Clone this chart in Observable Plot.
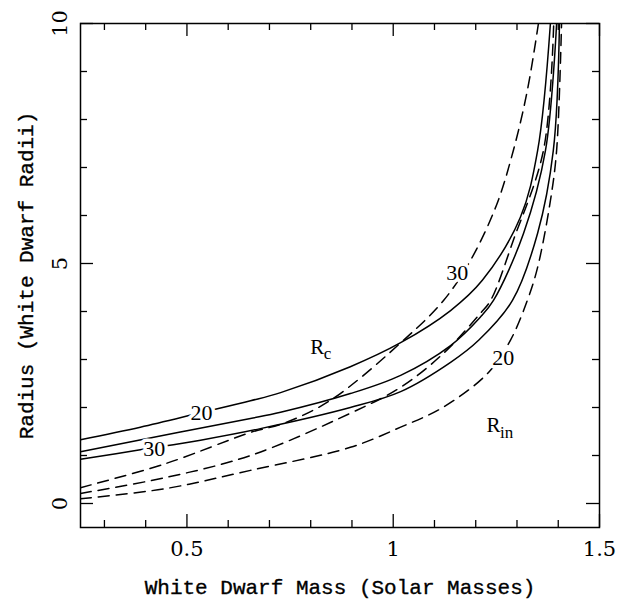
<!DOCTYPE html>
<html>
<head>
<meta charset="utf-8">
<script src="https://cdn.jsdelivr.net/npm/d3@7"></script>
<script src="https://cdn.jsdelivr.net/npm/@observablehq/plot@0.6"></script>
<style>
  html, body { margin: 0; padding: 0; background: #fff; }
  #chart svg { display: block; }
</style>
</head>
<body>
<div id="chart"></div>
<script>
// ---------- data ----------
// Solid curves (R_c), labelled 20 / 25 / 30
const s20Mass = [0.242, 0.387, 0.533, 0.654, 0.727, 0.896, 1.018, 1.139, 1.216, 1.308, 1.350, 1.381];
const s20Rad  = [1.33, 1.59, 1.89, 2.14, 2.31, 2.85, 3.35, 4.02, 4.65, 5.96, 7.35, 10.0];

const s25Mass = [0.242, 0.484, 0.654, 0.727, 0.896, 1.018, 1.139, 1.211, 1.243, 1.316, 1.369, 1.396];
const s25Rad  = [1.08, 1.49, 1.77, 1.90, 2.29, 2.67, 3.29, 3.88, 4.23, 5.63, 7.35, 10.0];

const s30Mass = [0.242, 0.387, 0.533, 0.678, 0.896, 1.018, 1.139, 1.207, 1.289, 1.350, 1.388, 1.403];
const s30Rad  = [0.92, 1.12, 1.32, 1.56, 2.00, 2.33, 2.94, 3.40, 4.23, 5.63, 7.35, 10.0];

// Dashed curves (R_in), labelled 30 / 25 / 20
const d30Mass = [0.242, 0.448, 0.654, 0.734, 0.848, 1.030, 1.122, 1.187, 1.250, 1.291, 1.325, 1.352];
const d30Rad  = [0.33, 0.83, 1.48, 1.67, 2.15, 3.44, 4.23, 5.06, 6.21, 7.35, 8.60, 10.0];

const d25Mass = [0.242, 0.448, 0.654, 0.896, 1.018, 1.122, 1.211, 1.236, 1.291, 1.364, 1.389];
const d25Rad  = [0.21, 0.54, 1.00, 1.88, 2.42, 3.13, 3.96, 4.23, 5.48, 7.35, 10.0];

const d20Mass = [0.242, 0.448, 0.654, 0.896, 1.018, 1.122, 1.231, 1.284, 1.325, 1.350, 1.381, 1.396, 1.408];
const d20Rad  = [0.10, 0.31, 0.69, 1.17, 1.59, 2.01, 2.73, 3.40, 4.23, 4.92, 6.31, 7.35, 10.0];

// Curve labels
const curveLabelText = ["20", "30", "30", "20"];
const curveLabelMass = [0.535, 0.421, 1.155, 1.267];
const curveLabelRad  = [1.896, 1.135, 4.80, 3.03];

// Region labels (R with subscript)
const regionMain = ["R", "R"];
const regionSub  = ["c", "in"];
const regionMass = [0.816, 1.243];
const regionRad  = [3.26, 1.625];

// Axes
const xDomain = [0.242, 1.5];
const yDomain = [-0.5, 10];
const xMajor = [0.5, 1, 1.5];
const xMinor = [0.3, 0.4, 0.6, 0.7, 0.8, 0.9, 1.1, 1.2, 1.3, 1.4];
const yMajor = [0, 5, 10];
const yMinor = [1, 2, 3, 4, 6, 7, 8, 9];
const xTitle = "White Dwarf Mass (Solar Masses)";
const yTitle = "Radius (White Dwarf Radii)";

// ---------- build tables ----------
function rows(key, ms, rs) { return ms.map((m, i) => ({k: key, m, r: rs[i]})); }
const solidRows = [
  ...rows("s20", s20Mass, s20Rad),
  ...rows("s25", s25Mass, s25Rad),
  ...rows("s30", s30Mass, s30Rad)
];
const dashedRows = [
  ...rows("d30", d30Mass, d30Rad),
  ...rows("d25", d25Mass, d25Rad),
  ...rows("d20", d20Mass, d20Rad)
];
const curveLabels = curveLabelText.map((t, i) => ({t, m: curveLabelMass[i], r: curveLabelRad[i]}));
const regionLabels = regionMain.map((t, i) => ({t, s: regionSub[i], m: regionMass[i], r: regionRad[i]}));

// ---------- layout ----------
const W = 625, H = 605;
const mL = 80, mR = 26, mT = 23, mB = 78;
const frameW = W - mL - mR;
const frameH = H - mT - mB;
const majorLen = 13, minorLen = 7;

const serifNum = "DejaVu Serif, serif";
const mono = "Liberation Mono, Courier New, monospace";
const times = "Liberation Serif, Times New Roman, serif";

const tickStyle = {stroke: "black", strokeWidth: 1.3};

const chart = Plot.plot({
  width: W,
  height: H,
  marginLeft: mL,
  marginRight: mR,
  marginTop: mT,
  marginBottom: mB,
  x: {domain: xDomain, axis: null},
  y: {domain: yDomain, axis: null},
  style: {background: "white", color: "black"},
  marks: [
    // curves
    Plot.line(solidRows, {x: "m", y: "r", z: "k", stroke: "black", strokeWidth: 1.5, curve: "catmull-rom", clip: true}),
    Plot.line(dashedRows, {x: "m", y: "r", z: "k", stroke: "black", strokeWidth: 1.5, strokeDasharray: "11,7", curve: "catmull-rom", clip: true}),
    // curve labels with white halo (gap in the curve)
    Plot.text(curveLabels, {x: "m", y: "r", text: "t", fontFamily: times, fontSize: 22,
      textAnchor: "middle", lineAnchor: "middle",
      fill: "black", stroke: "white", strokeWidth: 7, paintOrder: "stroke"}),
    // region labels
    Plot.text(regionLabels, {x: "m", y: "r", text: "t", fontFamily: times, fontSize: 21, fill: "black",
      textAnchor: "middle", lineAnchor: "middle"}),
    Plot.text(regionLabels, {x: "m", y: "r", text: "s", fontFamily: times, fontSize: 17, fill: "black",
      textAnchor: "start", lineAnchor: "middle", dx: 6.5, dy: 7}),
    // frame
    Plot.frame({stroke: "black", strokeWidth: 1.5}),
    // inward ticks: bottom / top
    Plot.ruleX(xMajor, {x: d => d, insetTop: frameH - majorLen, ...tickStyle}),
    Plot.ruleX(xMinor, {x: d => d, insetTop: frameH - minorLen, ...tickStyle}),
    Plot.ruleX(xMajor, {x: d => d, insetBottom: frameH - majorLen, ...tickStyle}),
    Plot.ruleX(xMinor, {x: d => d, insetBottom: frameH - minorLen, ...tickStyle}),
    // inward ticks: left / right
    Plot.ruleY(yMajor, {y: d => d, insetRight: frameW - majorLen, ...tickStyle}),
    Plot.ruleY(yMinor, {y: d => d, insetRight: frameW - minorLen, ...tickStyle}),
    Plot.ruleY(yMajor, {y: d => d, insetLeft: frameW - majorLen, ...tickStyle}),
    Plot.ruleY(yMinor, {y: d => d, insetLeft: frameW - minorLen, ...tickStyle}),
    // tick labels
    Plot.text(xMajor, {x: d => d, frameAnchor: "bottom", dy: 22, text: d => String(d),
      textAnchor: "middle", lineAnchor: "middle",
      fontFamily: serifNum, fontSize: 21, fill: "black"}),
    Plot.text(yMajor, {y: d => d, frameAnchor: "left", dx: -20, rotate: -90, text: d => String(d),
      textAnchor: "middle", lineAnchor: "middle",
      fontFamily: serifNum, fontSize: 21, fill: "black"}),
    // axis titles
    Plot.text([xTitle], {frameAnchor: "bottom", dy: 60, text: d => d,
      textAnchor: "middle", lineAnchor: "middle",
      fontFamily: mono, fontSize: 21, fill: "black", stroke: "black", strokeWidth: 0.35}),
    Plot.text([yTitle], {frameAnchor: "left", dx: -54, rotate: -90, text: d => d,
      textAnchor: "middle", lineAnchor: "middle",
      fontFamily: mono, fontSize: 21, fill: "black", stroke: "black", strokeWidth: 0.35})
  ]
});

document.getElementById("chart").appendChild(chart);
</script>
</body>
</html>
